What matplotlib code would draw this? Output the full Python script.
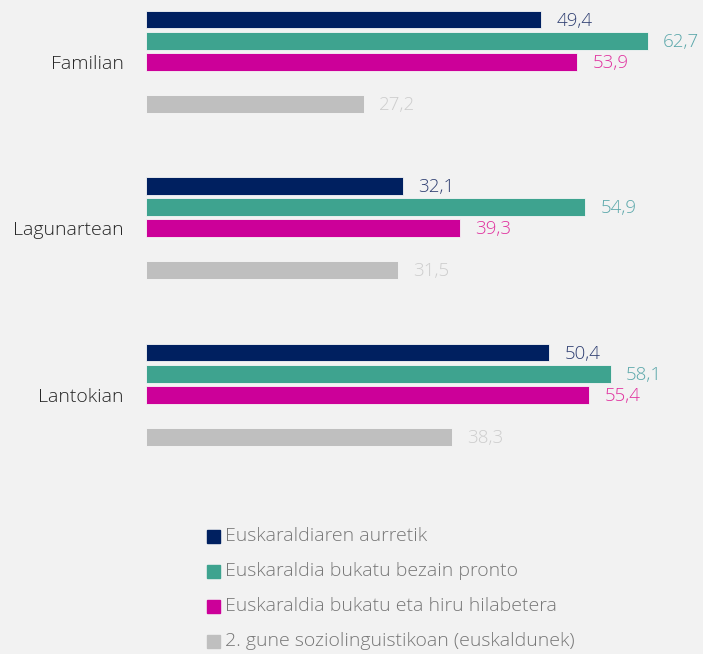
import matplotlib.pyplot as plt
import numpy as np

categories = ["Familian", "Lagunartean", "Lantokian"]
series = ["Euskaraldiaren aurretik",
          "Euskaraldia bukatu bezain pronto",
          "Euskaraldia bukatu eta hiru hilabetera",
          "2. gune soziolinguistikoan (euskaldunek)"]
aurretik = [49.4, 32.1, 50.4]
bukatu = [62.7, 54.9, 58.1]
hiru_hilabete = [53.9, 39.3, 55.4]
gune2 = [27.2, 31.5, 38.3]

values = [aurretik, bukatu, hiru_hilabete, gune2]
bar_colors = ["#002060", "#3ea38f", "#cc0099", "#bfbfbf"]
text_colors = ["#2f3f72", "#5aa7aa", "#e0309e", "#cdcdcd"]
slots = [0, 1, 2, 4]
group_step = 7.89

plt.rcParams['font.family'] = ['Open Sans', 'DejaVu Sans']

fig = plt.figure(figsize=(7.03, 6.54), dpi=100, facecolor="#f2f2f2")
ax = fig.add_axes([146 / 703, 1 - 470 / 654, 520 / 703, 470 / 654])
ax.set_facecolor("#f2f2f2")

base = np.arange(len(categories)) * group_step
for vals, slot, bc, tc in zip(values, slots, bar_colors, text_colors):
    y = base + slot
    ax.barh(y, vals, height=0.85, color=bc, edgecolor="#f6f6f6", linewidth=0.6)
    for yy, v in zip(y, vals):
        ax.text(v + 1.9, yy + 0.05, f"{v:.1f}".replace(".", ","), color=tc,
                fontsize=13.5, fontweight="light", va="center", ha="left",
                clip_on=False)

ax.set_xlim(0, 65)
ax.set_ylim(21.35, -0.924)
ax.set_yticks(base + 2)
ax.set_yticklabels(categories, fontsize=14, fontweight="light", color="#262626")
ax.tick_params(axis="y", length=0, pad=16)
ax.set_xticks([])
for s in ax.spines.values():
    s.set_visible(False)

# legend
ly = [536, 571, 606, 641]
for name, bc, yp in zip(series, bar_colors, ly):
    fig.patches.append(plt.Rectangle((207 / 703, 1 - (yp + 6.5) / 654), 13 / 703, 13 / 654,
                                     transform=fig.transFigure, color=bc))
    fig.text(225 / 703, 1 - yp / 654, name, fontsize=14, fontweight="light",
             color="#777777", va="center", ha="left")

fig.savefig("out.png", dpi=100, facecolor=fig.get_facecolor())
